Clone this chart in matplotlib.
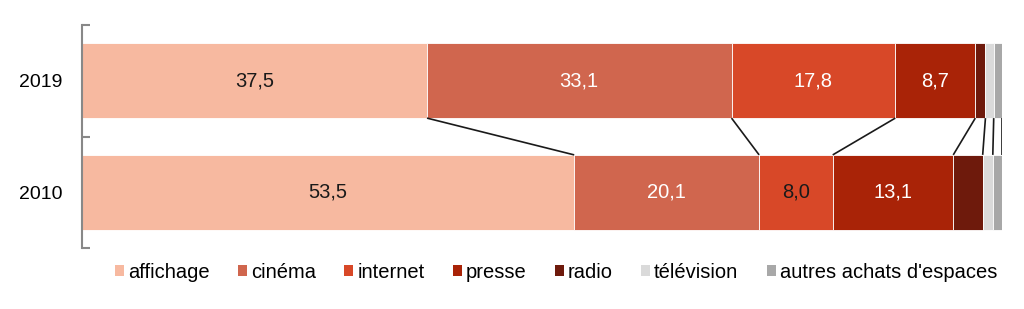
import matplotlib
matplotlib.use("Agg")
import matplotlib.pyplot as plt
from matplotlib.patches import Patch
import numpy as np

plt.rcParams['font.family'] = ['Liberation Sans', 'DejaVu Sans']

years = ["2010", "2019"]
categories = ["affichage", "cinéma", "internet", "presse", "radio", "télévision", "autres achats d'espaces"]
values_2010 = [53.5, 20.1, 8.0, 13.1, 3.2, 1.1, 1.0]
values_2019 = [37.5, 33.1, 17.8, 8.7, 1.1, 0.9, 0.9]
labels_2010 = ["53,5", "20,1", "8,0", "13,1", "", "", ""]
labels_2019 = ["37,5", "33,1", "17,8", "8,7", "", "", ""]
label_colors_2010 = ["#1a1a1a", "white", "#1a1a1a", "white", "white", "white", "white"]
label_colors_2019 = ["#1a1a1a", "white", "white", "white", "white", "white", "white"]
colors = ["#F7B9A0", "#D0664E", "#D84828", "#A92307", "#6E1A0C", "#DADADA", "#A8A8A8"]

fig = plt.figure(figsize=(10.24, 3.09), dpi=100)
ax = fig.add_axes([82/1024, 1 - 248/309, (1002 - 82)/1024, (248 - 25)/309])

series = [values_2010, values_2019]
labels = [labels_2010, labels_2019]
lcolors = [label_colors_2010, label_colors_2019]
h = 0.67
for yi, vals in enumerate(series):
    left = 0.0
    for ci, v in enumerate(vals):
        ax.barh(yi, v, left=left, height=h, color=colors[ci], edgecolor="white", linewidth=0.6)
        if labels[yi][ci]:
            ax.text(left + v / 2, yi, labels[yi][ci], ha="center", va="center",
                    fontsize=14.5, color=lcolors[yi][ci])
        left += v

# connector lines between cumulative boundaries
cum10 = np.cumsum(values_2010)
cum19 = np.cumsum(values_2019)
for a, b in zip(cum19, cum10):
    ax.plot([a, b], [1 - h / 2, 0 + h / 2], color="#1a1a1a", linewidth=1.2, solid_capstyle="butt")

ax.set_xlim(0, 100)
ax.set_ylim(-0.5, 1.5)
ax.set_yticks([0, 1])
ax.set_yticklabels(years, fontsize=14)
ax.tick_params(axis="y", which="major", length=0, pad=14)
ax.set_yticks([-0.5, 0.5, 1.5], minor=True)
ax.tick_params(axis="y", which="minor", length=6, direction="in", color="#888888", width=1.5)
ax.set_xticks([])
for s in ["top", "right", "bottom"]:
    ax.spines[s].set_visible(False)
ax.spines["left"].set_color("#888888")
ax.spines["left"].set_linewidth(1.5)

handles = [Patch(facecolor=c, edgecolor="none") for c in colors]
fig.legend(handles, categories, loc="center", bbox_to_anchor=(556/1024, 1 - 272/309),
           ncol=7, frameon=False, fontsize=14.5, handlelength=0.45, handleheight=0.45,
           handletextpad=0.2, columnspacing=1.4)

fig.savefig("out.png", dpi=100)
